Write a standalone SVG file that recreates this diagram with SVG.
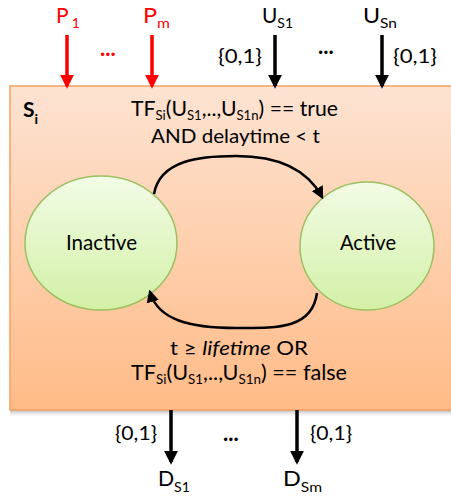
<svg xmlns="http://www.w3.org/2000/svg" width="451" height="498" viewBox="0 0 451 498">
  <defs>
    <linearGradient id="boxFill" x1="0" y1="0" x2="0" y2="1">
      <stop offset="0" stop-color="#fde3d2"/>
      <stop offset="1" stop-color="#ffbb87"/>
    </linearGradient>
    <linearGradient id="stateFill" x1="0" y1="0" x2="0" y2="1">
      <stop offset="0" stop-color="#f2fce6"/>
      <stop offset="1" stop-color="#d3f0a6"/>
    </linearGradient>
    <linearGradient id="shadowFill" x1="0" y1="0" x2="0" y2="1">
      <stop offset="0" stop-color="#9a9a9a" stop-opacity="0.7"/>
      <stop offset="1" stop-color="#ffffff" stop-opacity="0"/>
    </linearGradient>
    <marker id="headRed" markerWidth="4" markerHeight="4" refX="3.2" refY="2" orient="auto" markerUnits="strokeWidth">
      <path d="M0,0 L4,2 L0,4 Z" fill="#ff0000"/>
    </marker>
    <marker id="headBlack" markerWidth="4" markerHeight="4" refX="3.2" refY="2" orient="auto" markerUnits="strokeWidth">
      <path d="M0,0 L4,2 L0,4 Z" fill="#000000"/>
    </marker>
    <marker id="headArc" markerWidth="5" markerHeight="5" refX="4" refY="2.5" orient="auto" markerUnits="strokeWidth">
      <path d="M0,0 L5,2.5 L0,5 Z" fill="#000000"/>
    </marker>
  </defs>
  <style>
    text { font-family: Lato, "Open Sans", "Liberation Sans", sans-serif; fill: #000; }
    .lbl { font-size: 21px; }
    .cond { font-size: 20px; }
    .brace { font-size: 20px; }
    .dots { font-size: 22px; font-weight: bold; }
    .sub { font-size: 14px; }
    .subs { font-size: 13px; }
    .big { font-size: 21px; }
    .red { fill: #ff0000; }
    .state { fill: url(#stateFill); stroke: #9cc063; stroke-width: 1.5; }
    .in-red { stroke: #ff0000; stroke-width: 3.5; fill: none; marker-end: url(#headRed); }
    .in-black { stroke: #000; stroke-width: 3.5; fill: none; marker-end: url(#headBlack); }
    .arc { stroke: #000; stroke-width: 2.5; fill: none; marker-end: url(#headArc); }
  </style>

  <!-- component box -->
  <g id="component">
    <rect x="10" y="410" width="441" height="8" fill="url(#shadowFill)"/>
    <rect x="10" y="86" width="445" height="324" fill="url(#boxFill)" stroke="#f5a162" stroke-width="1.5"/>
    <text x="23" y="117" class="big" font-weight="bold">S<tspan class="sub" dy="7">i</tspan></text>
  </g>

  <!-- states -->
  <g id="inactive">
    <ellipse cx="101" cy="243" rx="76" ry="67" class="state"/>
    <text x="66" y="250" class="lbl" textLength="71" lengthAdjust="spacingAndGlyphs">Inactive</text>
  </g>
  <g id="active">
    <ellipse cx="367" cy="246" rx="67" ry="64" class="state"/>
    <text x="340" y="250" class="lbl" textLength="56" lengthAdjust="spacingAndGlyphs">Active</text>
  </g>

  <!-- connectors -->
  <g id="connectors">
    <path d="M154,194 C160,160 200,156 236,156 C272,156 305,165 322,197" class="arc"/>
    <path d="M317,293 C312,330 275,328 236,328 C190,328 158,320 150,292" class="arc"/>
    <line x1="67" y1="35" x2="67" y2="86" class="in-red"/>
    <line x1="152" y1="35" x2="152" y2="86" class="in-red"/>
    <line x1="275" y1="35" x2="275" y2="86" class="in-black"/>
    <line x1="382" y1="35" x2="382" y2="86" class="in-black"/>
    <line x1="171" y1="410" x2="171" y2="462" class="in-black"/>
    <line x1="297" y1="410" x2="297" y2="462" class="in-black"/>
  </g>

  <!-- inputs -->
  <g id="inputs">
    <text x="56" y="23" class="big red">P<tspan class="sub" dx="3" dy="5">1</tspan></text>
    <text x="100" y="56" class="dots red">...</text>
    <text x="143" y="23" class="big red" textLength="27" lengthAdjust="spacingAndGlyphs">P<tspan class="sub" dy="5">m</tspan></text>
    <text x="262" y="23" class="big" textLength="31" lengthAdjust="spacingAndGlyphs">U<tspan class="sub" dy="5">S1</tspan></text>
    <text x="218" y="63" class="brace" textLength="44" lengthAdjust="spacingAndGlyphs">{0,1}</text>
    <text x="318" y="54" class="dots">...</text>
    <text x="363" y="23" class="big" textLength="34" lengthAdjust="spacingAndGlyphs">U<tspan class="sub" dy="5">Sn</tspan></text>
    <text x="393" y="63" class="brace" textLength="44" lengthAdjust="spacingAndGlyphs">{0,1}</text>
  </g>

  <!-- transition conditions -->
  <g id="conditions">
    <text x="131" y="116" class="lbl" textLength="207" lengthAdjust="spacingAndGlyphs">TF<tspan class="subs" dy="4">Si</tspan><tspan dy="-4">(U</tspan><tspan class="subs" dy="4">S1</tspan><tspan dy="-4">,..,U</tspan><tspan class="subs" dy="4">S1n</tspan><tspan dy="-4">) == true</tspan></text>
    <text x="151" y="143" class="cond" textLength="169" lengthAdjust="spacingAndGlyphs">AND delaytime &lt; t</text>
    <text x="170" y="355" class="cond" textLength="138" lengthAdjust="spacingAndGlyphs">t ≥  <tspan font-style="italic">lifetime</tspan> OR</text>
    <text x="131" y="380" class="lbl" textLength="216" lengthAdjust="spacingAndGlyphs">TF<tspan class="subs" dy="4">Si</tspan><tspan dy="-4">(U</tspan><tspan class="subs" dy="4">S1</tspan><tspan dy="-4">,..,U</tspan><tspan class="subs" dy="4">S1n</tspan><tspan dy="-4">) == false</tspan></text>
  </g>

  <!-- outputs -->
  <g id="outputs">
    <text x="115" y="440" class="brace" textLength="42" lengthAdjust="spacingAndGlyphs">{0,1}</text>
    <text x="223" y="441" class="dots">...</text>
    <text x="310" y="440" class="brace" textLength="42" lengthAdjust="spacingAndGlyphs">{0,1}</text>
    <text x="158" y="486" class="big" textLength="32" lengthAdjust="spacingAndGlyphs">D<tspan class="sub" dy="6">S1</tspan></text>
    <text x="283" y="486" class="big" textLength="39" lengthAdjust="spacingAndGlyphs">D<tspan class="sub" dy="6">Sm</tspan></text>
  </g>
</svg>
